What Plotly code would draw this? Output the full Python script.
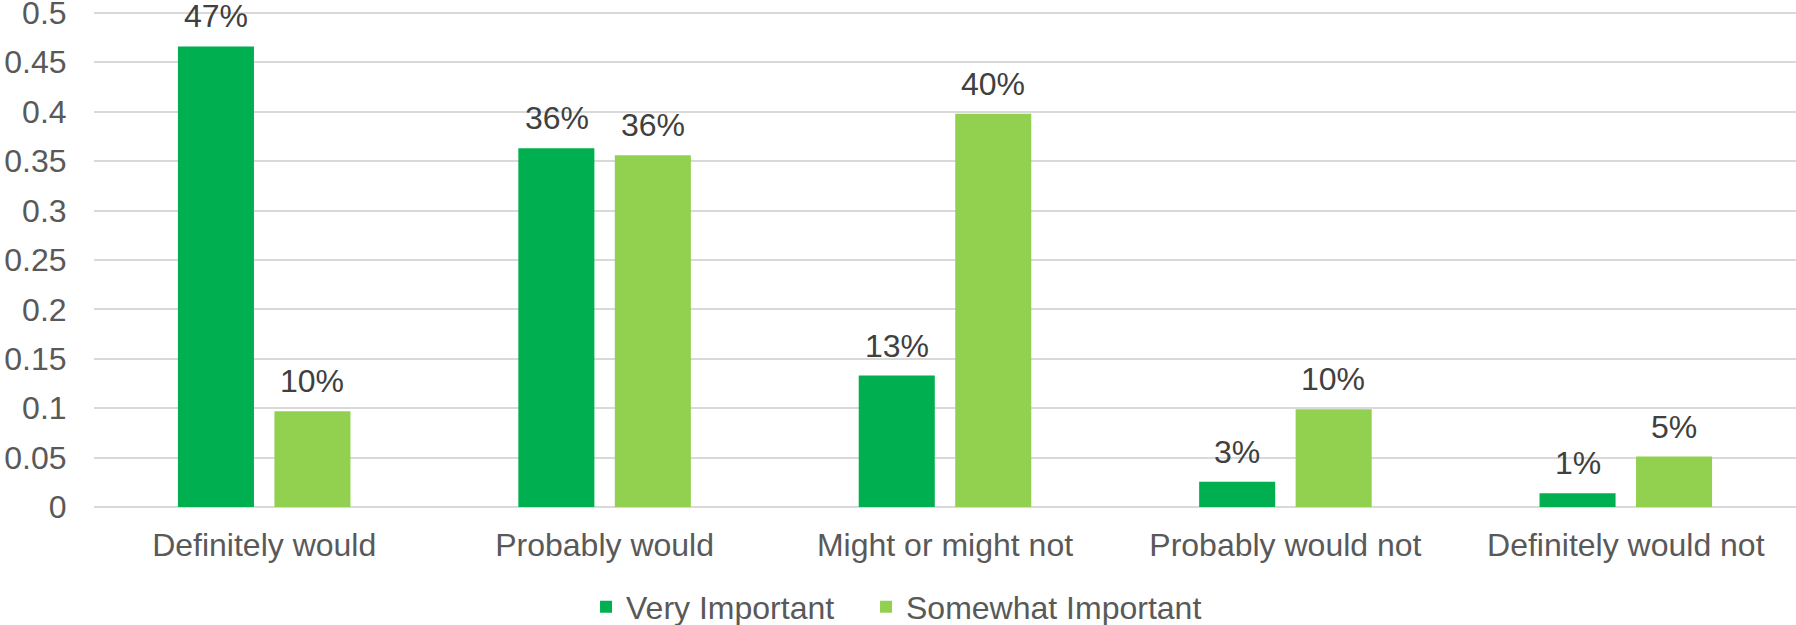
import plotly.graph_objects as go

# Survey responses by importance group
categories = ["Definitely would", "Probably would", "Might or might not",
              "Probably would not", "Definitely would not"]
very_important = [0.466, 0.363, 0.133, 0.0255, 0.014]
somewhat_important = [0.097, 0.356, 0.398, 0.099, 0.051]
y_ticks = [0, 0.05, 0.1, 0.15, 0.2, 0.25, 0.3, 0.35, 0.4, 0.45, 0.5]

DARK_GREEN = "#00B050"
LIGHT_GREEN = "#92D050"
AXIS_TEXT = "#595959"
LABEL_TEXT = "#404040"
FONT = "Liberation Sans, Arial, sans-serif"
SIZE = 32

fig = go.Figure()
fig.add_trace(go.Bar(name="Very Important", x=categories, y=very_important,
                     marker=dict(color=DARK_GREEN, line=dict(width=0)),
                     legend="legend"))
fig.add_trace(go.Bar(name="Somewhat Important", x=categories, y=somewhat_important,
                     marker=dict(color=LIGHT_GREEN, line=dict(width=0)),
                     legend="legend2"))

# Percentage labels above each bar, offset to the bar's slot within the group
for series, shift in ((very_important, -48), (somewhat_important, 48)):
    for cat, val in zip(categories, series):
        fig.add_annotation(x=cat, y=val, xref="x", yref="y",
                           text=f"{val:.0%}", showarrow=False,
                           xanchor="center", yanchor="bottom",
                           xshift=shift, yshift=10,
                           font=dict(family=FONT, size=SIZE, color=LABEL_TEXT))

legend_style = dict(orientation="h", xref="container", yref="container",
                    xanchor="left", y=0.029, yanchor="middle",
                    font=dict(family=FONT, size=SIZE, color=AXIS_TEXT),
                    bgcolor="rgba(0,0,0,0)")

fig.update_layout(
    width=1796, height=625,
    margin=dict(l=94, r=0, t=3, b=118, autoexpand=False),
    paper_bgcolor="white", plot_bgcolor="white",
    barmode="group", bargap=0.433, bargroupgap=0.212,
    font=dict(family=FONT, size=SIZE, color=AXIS_TEXT),
    showlegend=True,
    legend=dict(x=0.3263, **legend_style),
    legend2=dict(x=0.4822, **legend_style),
)
fig.update_xaxes(showgrid=False, showline=False, zeroline=False,
                 automargin=False,
                 ticks="outside", ticklen=0, ticklabelstandoff=10,
                 tickfont=dict(family=FONT, size=SIZE, color=AXIS_TEXT))
# Range runs a little past 0.5 so the top gridline is kept
fig.update_yaxes(range=[0, 0.51], tickvals=y_ticks,
                 ticktext=[f"{v:g}" for v in y_ticks],
                 showgrid=True, gridcolor="#D9D9D9", gridwidth=2,
                 zeroline=True, zerolinecolor="#D9D9D9", zerolinewidth=2,
                 showline=False, ticks="outside", ticklen=0, automargin=False,
                 ticklabelstandoff=20, ticklabeloverflow="allow",
                 tickfont=dict(family=FONT, size=SIZE, color=AXIS_TEXT))

fig.write_html("out.html")
